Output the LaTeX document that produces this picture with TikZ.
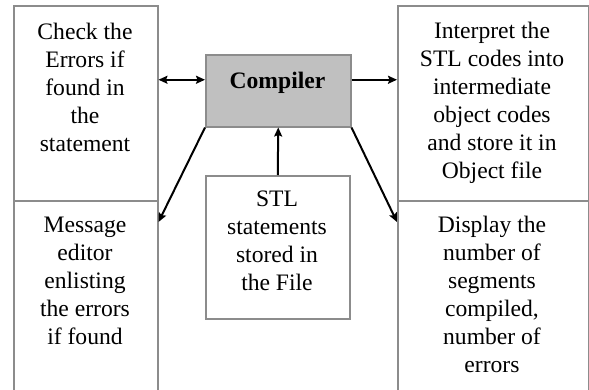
\documentclass[tikz,border=0pt]{standalone}
\usepackage{fontspec}
\setmainfont{Liberation Serif}
\usetikzlibrary{arrows.meta}
\definecolor{boxgray}{HTML}{8C8C8C}
\definecolor{cmpfill}{HTML}{C0C0C0}
\begin{document}
\begin{tikzpicture}[x=1pt,y=-1pt,
  box/.style={draw=boxgray, line width=1.5pt, rectangle, inner sep=0pt, anchor=north west},
  txt/.style={align=center, font=\fontsize{23.6}{28}\selectfont, inner sep=0pt, anchor=north},
  arr/.style={line width=2pt, -{Stealth[length=9pt,width=8pt,inset=1.5pt]}},
  dblarr/.style={line width=2pt, {Stealth[length=9pt,width=8pt,inset=1.5pt]}-{Stealth[length=9pt,width=8pt,inset=1.5pt]}}]
\useasboundingbox (0,0) rectangle (589,389);
% boxes
\node[box, minimum width=144pt, minimum height=195pt] (chk) at (13,5) {};
\node[box, minimum width=144pt, minimum height=200pt] (msg) at (13,200) {};
\node[box, minimum width=191pt, minimum height=195pt] (intp) at (397,5) {};
\node[box, minimum width=191pt, minimum height=200pt] (disp) at (397,200) {};
\node[box, fill=cmpfill, minimum width=145pt, minimum height=72pt] (cmp) at (205,54) {};
\node[box, minimum width=144pt, minimum height=143pt] (stl) at (205,175) {};
% texts
\node[txt] (chkt) at (85,23) {Check the\\Errors if\\found in\\the\\statement};
\node[txt] (intpt) at (492,22) {Interpret the\\STL codes into\\intermediate\\object codes\\and store it in\\Object file};
\node[txt] (msgt) at (85,217) {Message\\editor\\enlisting\\the errors\\if found};
\node[txt] (dispt) at (492,216) {Display the\\number of\\segments\\compiled,\\number of\\errors};
\node[txt] (stlt) at (277,191) {STL\\statements\\stored in\\the File};
\node[txt, font=\fontsize{23.6}{28}\selectfont\bfseries] (cmpt) at (277.5,72) {Compiler};
% connectors
\coordinate (cw) at ([yshift=11pt]cmp.west);
\coordinate (ce) at ([yshift=11pt]cmp.east);
\draw[dblarr] (chk.east |- cw) -- (cw);
\draw[arr] (ce) -- (intp.west |- ce);
\draw[arr] (stl.north) -- (cmp.south);
\draw[arr] (cmp.south west) -- ([yshift=-22pt]msg.north east);
\draw[arr] (cmp.south east) -- ([yshift=-22pt]disp.north west);
\end{tikzpicture}
\end{document}
